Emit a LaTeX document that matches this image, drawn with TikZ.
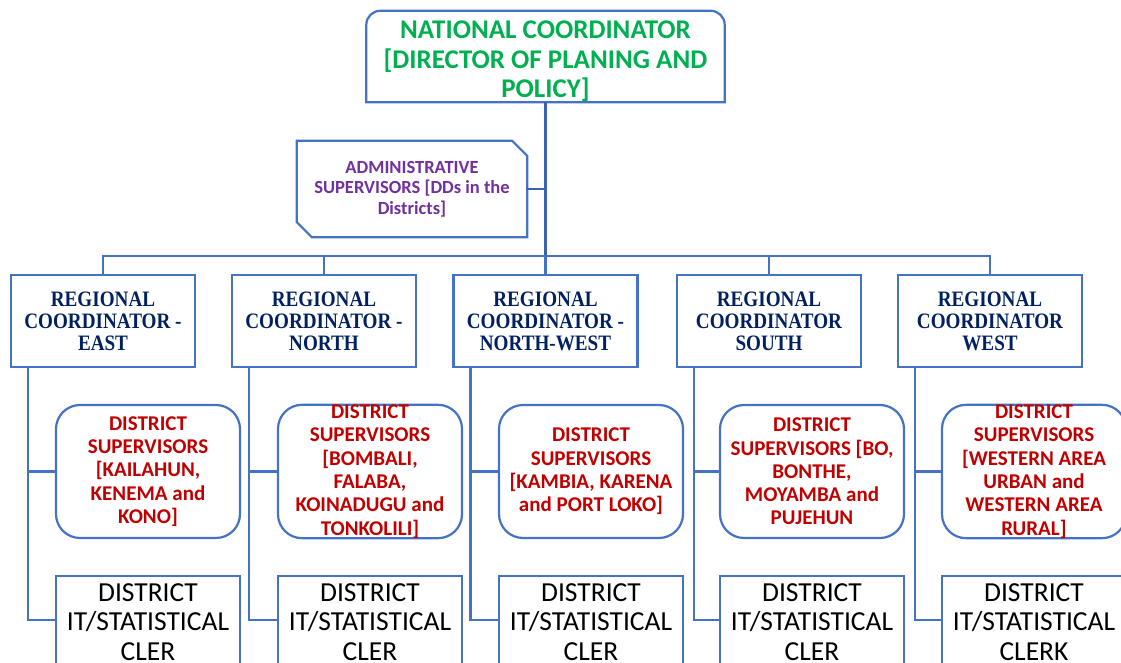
\documentclass[tikz,border=0pt]{standalone}
\usepackage{fontspec}
\setmainfont{Carlito}
\newfontfamily\cambr[FakeStretch=0.87]{Liberation Serif}
\usetikzlibrary{calc}
\definecolor{bordblue}{HTML}{4472C4}
\definecolor{darkblue}{HTML}{3A62AE}
\definecolor{natgreen}{HTML}{00B050}
\definecolor{admpurple}{HTML}{7030A0}
\definecolor{distred}{HTML}{C00000}
\definecolor{regnavy}{HTML}{002060}
\begin{document}
\begin{tikzpicture}[x=1pt,y=1pt,
  boxline/.style={draw=bordblue, line width=2.2pt},
  conn/.style={draw=bordblue, line width=2.6pt},
  topconn/.style={draw=darkblue, line width=2.6pt},
  regbox/.style={boxline, rectangle, minimum width=184pt, minimum height=92pt, inner sep=0pt, align=center, text=regnavy, font=\cambr\bfseries\fontsize{22}{22}\selectfont},
  distbox/.style={boxline, rectangle, rounded corners=24pt, minimum width=184pt, minimum height=133pt, inner sep=0pt, align=center, text=distred, font=\bfseries\fontsize{21}{23.3}\selectfont},
  clerkbox/.style={boxline, rectangle, minimum width=184pt, minimum height=107pt, inner sep=0pt},
  clerktext/.style={anchor=north, inner sep=0pt, align=center, font=\fontsize{27.5}{29.5}\selectfont, text=black},
]
\useasboundingbox (0,0) rectangle (1121,663);

% national coordinator (node spans the lower part; border extends 10pt above it)
\node[inner sep=0pt, minimum width=358pt, minimum height=81pt, align=center, text=natgreen, font=\bfseries\fontsize{27}{29.5}\selectfont] (nat) at (545.5,601.5) {NATIONAL COORDINATOR\\ {[}DIRECTOR OF PLANING AND\\ POLICY]};
\draw[boxline] (nat.south west) -- ([yshift=-4pt]nat.north west) arc[start angle=180, end angle=90, radius=14pt] -- ([xshift=-14pt,yshift=10pt]nat.north east) arc[start angle=90, end angle=0, radius=14pt] -- (nat.south east) -- cycle;

% administrative supervisors
\node[inner sep=0pt, minimum width=230pt, minimum height=96pt, align=center, text=admpurple, font=\bfseries\fontsize{18.5}{20.5}\selectfont] (adm) at (412,474) {ADMINISTRATIVE\\ SUPERVISORS [DDs in the\\ Districts]};
\draw[boxline] ([xshift=15pt]adm.south west) -- ([yshift=15pt]adm.south west) -- (adm.north west) -- ([xshift=-15pt]adm.north east) -- ([yshift=-15pt]adm.north east) -- (adm.south east) -- cycle;

% regional coordinators
\node[regbox] (r1) at (103,342) {REGIONAL\\ COORDINATOR -\\ EAST};
\node[regbox] (r2) at (324,342) {REGIONAL\\ COORDINATOR -\\ NORTH};
\node[regbox] (r3) at (545.5,342) {REGIONAL\\ COORDINATOR -\\ NORTH-WEST};
\node[regbox] (r4) at (769,342) {REGIONAL\\ COORDINATOR\\ SOUTH};
\node[regbox] (r5) at (990,342) {REGIONAL\\ COORDINATOR\\ WEST};

% district supervisors
\node[distbox] (d1) at (148,191.5) {DISTRICT\\ SUPERVISORS\\ {[}KAILAHUN,\\ KENEMA and\\ KONO]};
\node[distbox] (d2) at (370,191.5) {DISTRICT\\ SUPERVISORS\\ {[}BOMBALI,\\ FALABA,\\ KOINADUGU and\\ TONKOLILI]};
\node[distbox] (d3) at (591,191.5) {DISTRICT\\ SUPERVISORS\\ {[}KAMBIA, KARENA\\ and PORT LOKO]};
\node[distbox] (d4) at (812,191.5) {DISTRICT\\ SUPERVISORS [BO,\\ BONTHE,\\ MOYAMBA and\\ PUJEHUN};
\node[distbox] (d5) at (1034,191.5) {DISTRICT\\ SUPERVISORS\\ {[}WESTERN AREA\\ URBAN and\\ WESTERN AREA\\ RURAL]};

% clerks
\foreach \i/\x/\t in {1/148/CLER,2/370/CLER,3/591/CLER,4/812/CLER,5/1034/CLERK}{
  \node[clerkbox] (c\i) at (\x,33.5) {};
  \node[clerktext] (c\i t) at ([yshift=-8.5pt]c\i.north) {DISTRICT\\ IT/STATISTICAL\\ \t};
}

% connectors
\coordinate (bus) at (545.5,407);
\draw[topconn] (nat.south) -- (bus);
\draw[topconn] (adm.east) -- (adm.east -| nat.south);
\draw[conn] (r1.north) -- (r1.north |- bus) -- (r5.north |- bus) -- (r5.north);
\foreach \i in {2,3,4}{
  \draw[conn] (r\i.north) -- (r\i.north |- bus);
}
\foreach \i in {1,...,5}{
  \coordinate (v\i) at ([xshift=18pt]r\i.south west);
  \draw[conn] (v\i) |- ([yshift=-45pt]c\i.north west);
  \draw[conn] (v\i |- d\i.west) -- (d\i.west);
}
\end{tikzpicture}
\end{document}
